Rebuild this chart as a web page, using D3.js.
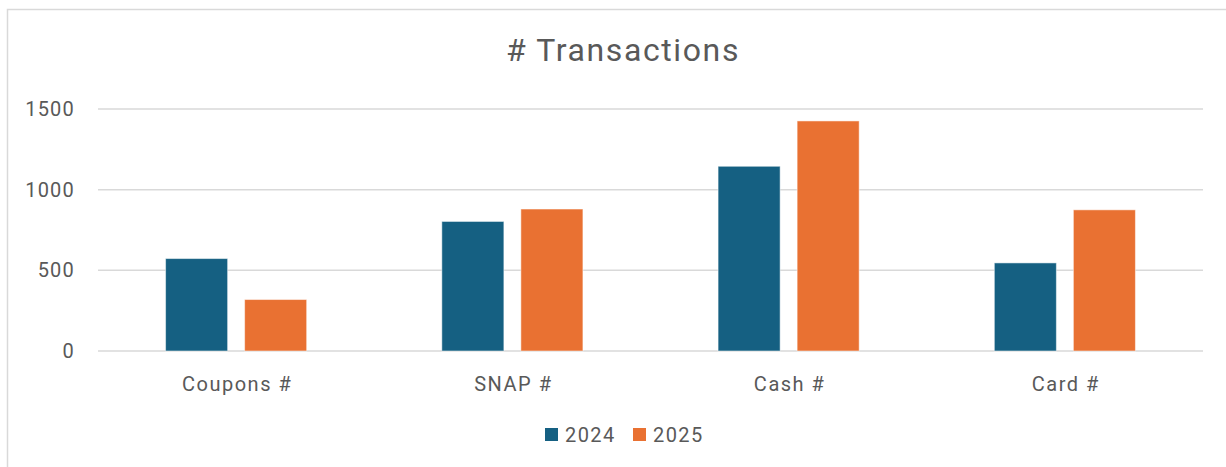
<!DOCTYPE html>
<html>
<head>
<meta charset="utf-8">
<script src="https://cdn.jsdelivr.net/npm/d3@7"></script>
<style>
  body { margin: 0; background: #fff; }
  text { font-family: Roboto, "Liberation Sans", sans-serif; fill: #595959; }
</style>
</head>
<body>
<script>
// chart data
const categories = ['Coupons #', 'SNAP #', 'Cash #', 'Card #'];
const seriesNames = ['2024', '2025'];
const values2024 = [573, 803, 1145, 546];
const values2025 = [319, 880, 1426, 875];
const yTicks = [0, 500, 1000, 1500];
const colors = ['#156082', '#E97132'];

const W = 1226, H = 467;
const margin = { top: 109, right: 23, bottom: 116, left: 98 };

const svg = d3.select('body').append('svg')
    .attr('width', W)
    .attr('height', H);

// outer frame of the chart area
svg.append('rect')
    .attr('x', 7.5).attr('y', 9.5)
    .attr('width', W + 10).attr('height', H + 10)
    .attr('fill', 'none')
    .attr('stroke', '#d9d9d9')
    .attr('stroke-width', 1.5);

const x0 = d3.scaleBand()
    .domain(categories)
    .range([margin.left, W - margin.right]);

const x1 = d3.scaleBand()
    .domain(seriesNames)
    .range([0, x0.bandwidth()])
    .paddingInner(0.215)
    .paddingOuter(0.855);

const y = d3.scaleLinear()
    .domain([0, 1500])
    .range([H - margin.bottom, margin.top]);

// gridlines
svg.append('g')
    .selectAll('line')
    .data(yTicks)
    .enter()
  .append('line')
    .attr('x1', margin.left)
    .attr('x2', W - margin.right)
    .attr('y1', d => y(d))
    .attr('y2', d => y(d))
    .attr('stroke', '#d9d9d9')
    .attr('stroke-width', 1.5);

// y labels
svg.append('g')
    .selectAll('text')
    .data(yTicks)
    .enter()
  .append('text')
    .attr('x', 75)
    .attr('y', d => y(d))
    .attr('dy', '0.35em')
    .attr('text-anchor', 'end')
    .style('font-size', '20px')
    .style('letter-spacing', '1.2px')
    .text(d => d);

// bars
const rows = categories.map((c, i) => ({ cat: c, vals: [values2024[i], values2025[i]] }));

const groups = svg.append('g')
    .selectAll('g')
    .data(rows)
    .enter()
  .append('g')
    .attr('transform', d => `translate(${x0(d.cat)},0)`);

groups.selectAll('rect')
    .data(d => d.vals.map((v, k) => ({ key: seriesNames[k], v: v, k: k })))
    .enter()
  .append('rect')
    .attr('x', d => x1(d.key))
    .attr('width', x1.bandwidth())
    .attr('y', d => y(d.v))
    .attr('height', d => y(0) - y(d.v))
    .attr('fill', d => colors[d.k])
    .attr('stroke', 'rgba(255,255,255,0.5)')
    .attr('stroke-width', 1);

// category labels
svg.append('g')
    .selectAll('text')
    .data(categories)
    .enter()
  .append('text')
    .attr('x', d => x0(d) + x0.bandwidth() / 2 + 1)
    .attr('y', 391)
    .attr('text-anchor', 'middle')
    .style('font-size', '20px')
    .style('letter-spacing', '1.5px')
    .text(d => d);

// title
svg.append('text')
    .attr('x', 623)
    .attr('y', 61)
    .attr('text-anchor', 'middle')
    .style('font-size', '32px')
    .style('letter-spacing', '1.6px')
    .text('# Transactions');

// legend
const legend = svg.append('g')
    .selectAll('g')
    .data(seriesNames)
    .enter()
  .append('g')
    .attr('transform', (d, i) => `translate(${545 + i * 88},435)`);

legend.append('rect')
    .attr('x', 0).attr('y', -7)
    .attr('width', 13).attr('height', 13)
    .attr('fill', (d, i) => colors[i]);

legend.append('text')
    .attr('x', 20)
    .attr('y', 7)
    .style('font-size', '20px')
    .style('letter-spacing', '1.4px')
    .text(d => d);
</script>
</body>
</html>
